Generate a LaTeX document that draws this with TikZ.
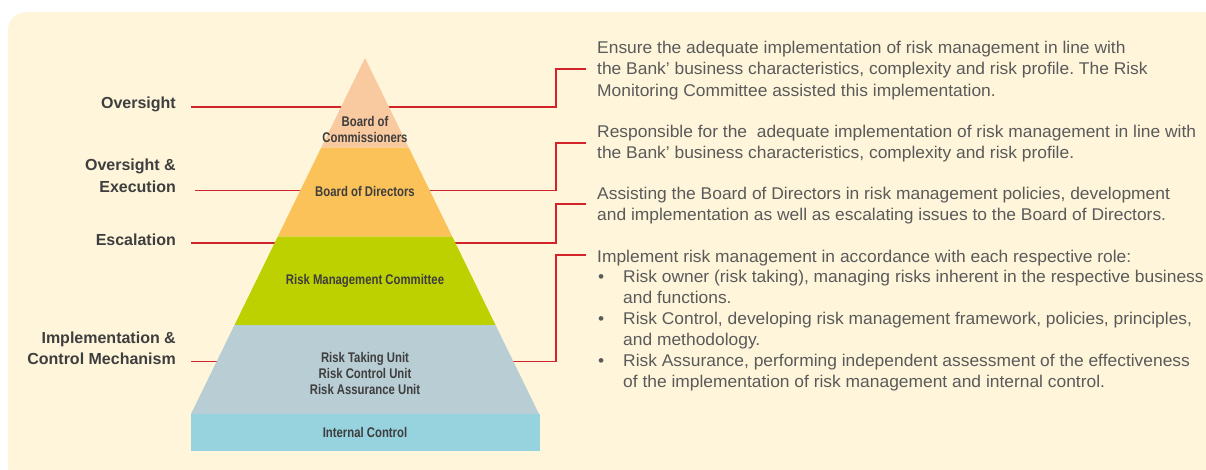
\documentclass[tikz,border=0pt]{standalone}
\usepackage{fontspec}
\setmainfont{Liberation Sans}
\newfontfamily\pyrfont[FakeStretch=0.81]{Liberation Sans}
\newfontfamily\descfont[FakeStretch=1.024]{Liberation Sans}
\usepackage{tikz}
\frenchspacing

\definecolor{bgcream}{HTML}{FEF5DA}
\definecolor{peach}{HTML}{F9C9A0}
\definecolor{amber}{HTML}{FBC25A}
\definecolor{lime}{HTML}{BDD000}
\definecolor{greyblue}{HTML}{B8CDD4}
\definecolor{aqua}{HTML}{96D3DF}
\definecolor{linkred}{HTML}{D2232A}
\definecolor{labelgrey}{HTML}{3E3E3E}
\definecolor{textgrey}{HTML}{5A5A5A}

\tikzset{
  link/.style={draw=linkred, line width=1.7pt},
  level/.style={font=\fontsize{16}{21.5}\selectfont\bfseries, text=labelgrey, align=right, anchor=east, inner sep=0pt},
  layer/.style={font=\pyrfont\bfseries\fontsize{14}{16}\selectfont, text=labelgrey, align=center, inner sep=0pt},
  desc/.style={font=\descfont\fontsize{17}{21.9}\selectfont, text=textgrey, align=left, anchor=north west, inner sep=0pt},
}
\newcommand{\bul}{\makebox[26pt][l]{\hspace{1pt}\textbullet}}
\newcommand{\hang}{\hspace*{26pt}}

\begin{document}
\begin{tikzpicture}[x=1pt, y=-1pt]
            \useasboundingbox (0,0) rectangle (1206,469);
            \fill[bgcream, rounded corners=18pt] (8,12) rectangle (1220,485);

            % levels on the left
            \node[level] (over) at (176,104) {Oversight};
            \node[level] (overexec) at (176,176) {Oversight \&\\Execution};
            \node[level] (escal) at (176,240) {Escalation};
            \node[level] (impl) at (176,348.5) {Implementation \&\\Control Mechanism};

            % descriptions on the right
            \node[desc] (dcom) at (597,40.5) {Ensure the adequate implementation of risk management in line with\\the Bank’ business characteristics, complexity and risk profile. The Risk\\Monitoring Committee assisted this implementation.};
            \node[desc] (ddir) at (597,124.5) {Responsible for the \ adequate implementation of risk management in line with\\the Bank’ business characteristics, complexity and risk profile.};
            \node[desc] (drmc) at (597,186.5) {Assisting the Board of Directors in risk management policies, development\\and implementation as well as escalating issues to the Board of Directors.};
            \node[desc, font=\descfont\fontsize{17}{20.9}\selectfont] (dunit) at (597,249.5) {Implement risk management in accordance with each respective role:\\
              \bul Risk owner (risk taking), managing risks inherent in the respective business\\
              \hang and functions.\\
              \bul Risk Control, developing risk management framework, policies, principles,\\
              \hang and methodology.\\
              \bul Risk Assurance, performing independent assessment of the effectiveness\\
              \hang of the implementation of risk management and internal control.};

            % connectors
            \coordinate (s1) at (191,107);
            \coordinate (s2) at (195,190.5);
            \coordinate (s3) at (191,243);
            \coordinate (s4) at (191,361.5);
            \coordinate (t1) at (586,69);
            \coordinate (t2) at (586,143);
            \coordinate (t3) at (586,204);
            \coordinate (t4) at (586,255);

            \draw[link] (s1) -- (556,107) |- (t1);
            \draw[link] (s2) -- (556,190.5) |- (t2);
            \draw[link] (s3) -- (556,243) |- (t3);
            \draw[link] (s4) -- (556,361.5) |- (t4);

            % pyramid
            \fill[peach] (365,58) -- (408.8,147.7) -- (321.2,147.7) -- cycle;
            \fill[amber] (321.2,147.7) -- (408.8,147.7) -- (452.3,236.7) -- (277.7,236.7) -- cycle;
            \fill[lime] (277.7,236.7) -- (452.3,236.7) -- (495.5,325) -- (234.5,325) -- cycle;
            \fill[greyblue] (234.5,325) -- (495.5,325) -- (539,414) -- (191,414) -- cycle;
            \fill[aqua] (191,414) rectangle (540,450.7);

            \node[layer] (boc) at (365,129.5) {Board of\\Commissioners};
            \node[layer] (bod) at (365,191) {Board of Directors};
            \node[layer] (rmc) at (365,280.5) {Risk Management Committee};
            \node[layer] (units) at (365,373) {Risk Taking Unit\\Risk Control Unit\\Risk Assurance Unit};
            \node[layer] (ic) at (365,432.5) {Internal Control};
        \end{tikzpicture}
\end{document}
